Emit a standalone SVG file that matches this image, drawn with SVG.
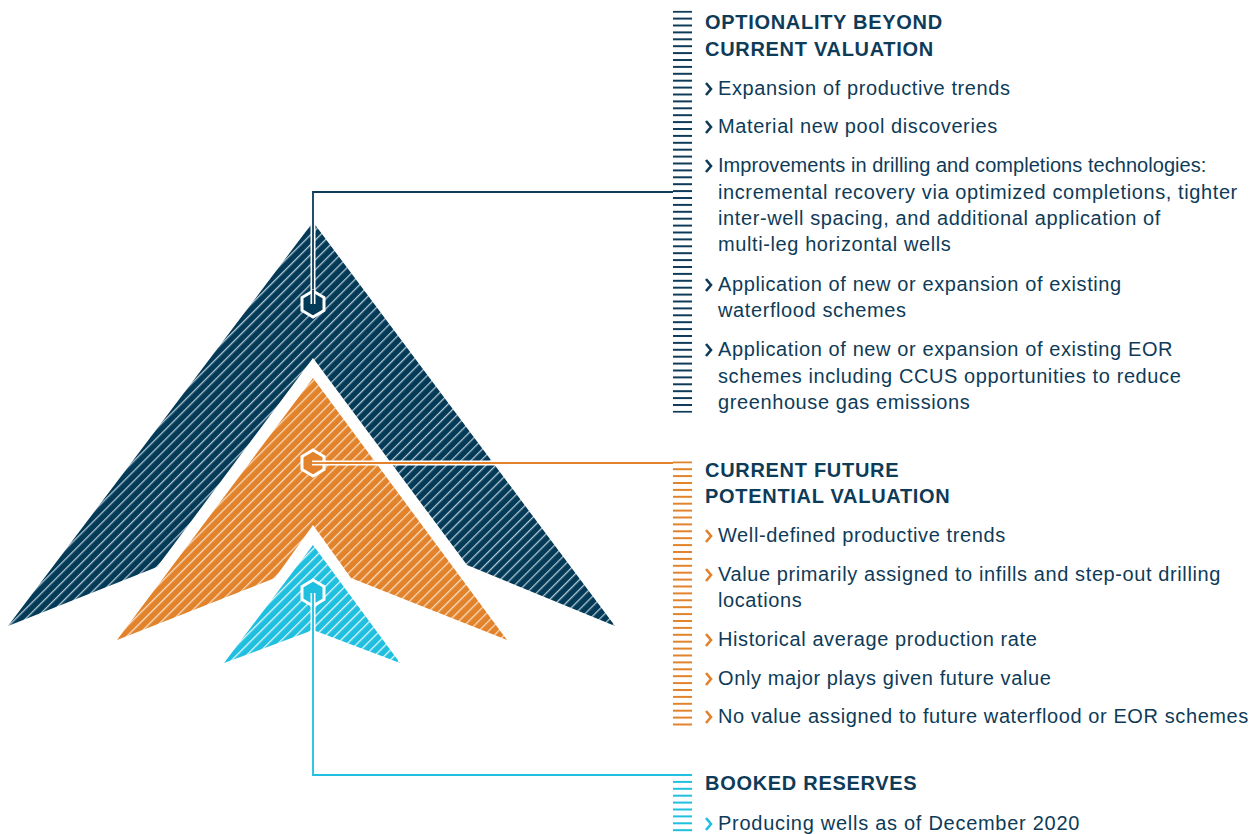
<svg xmlns="http://www.w3.org/2000/svg" width="1258" height="834" viewBox="0 0 1258 834">
<style>
.hd{font-family:"Liberation Sans",Arial,sans-serif;font-weight:bold;font-size:20px;letter-spacing:0.7px;fill:#0e3b58}
.tx{font-family:"Liberation Sans",Arial,sans-serif;font-size:20px;letter-spacing:0.6px;fill:#0e3b58}
.hex{stroke:#fff;stroke-width:3}
.halo{fill:none;stroke:#fff;stroke-width:5}
.bul{fill:none;stroke-width:2.6;stroke-linejoin:miter}
</style>
<defs>
<pattern id="stDark" width="7" height="7" patternUnits="userSpaceOnUse" patternTransform="rotate(45)">
<rect width="7" height="7" fill="#033a57"/><rect x="0" width="1.3" height="7" fill="#b3c7d3"/>
</pattern>
<pattern id="stOrange" width="7" height="7" patternUnits="userSpaceOnUse" patternTransform="rotate(45)">
<rect width="7" height="7" fill="#e2822a"/><rect x="0" width="1.3" height="7" fill="#f8dcc0"/>
</pattern>
<pattern id="stCyan" width="7" height="7" patternUnits="userSpaceOnUse" patternTransform="rotate(45)">
<rect width="7" height="7" fill="#1ebfdf"/><rect x="0" width="1.3" height="7" fill="#e6f7fb"/>
</pattern>
<pattern id="barDark" width="19" height="6.9" patternUnits="userSpaceOnUse" y="10.7">
<rect width="19" height="2" fill="#0e3b58"/>
</pattern>
<pattern id="barOrange" width="19" height="6.9" patternUnits="userSpaceOnUse" y="461.3">
<rect width="19" height="2" fill="#e2822a"/>
</pattern>
<pattern id="barCyan" width="19" height="6.9" patternUnits="userSpaceOnUse" y="774">
<rect width="19" height="2" fill="#1ebfdf"/>
</pattern>
<path id="chev" d="M0,0 L5,6 L0,12"/>
</defs>

<g id="shape-optionality">
<path d="M313,222 L615,626 L467,565 L313,358 L157,567 L8,626 Z" fill="url(#stDark)"/>
</g>
<g id="shape-current">
<path d="M313,378 L507,640 L351,578 L313,525 L275,578 L117,640 Z" fill="url(#stOrange)"/>
</g>
<g id="shape-booked">
<path d="M313,545 L400,663 L313,630 L224,663 Z" fill="url(#stCyan)"/>
</g>

<g id="connectors">
<path class="halo" d="M313,303 V192"/>
<path class="halo" d="M313,463 H500"/>
<path class="halo" d="M313,593 V640"/>
<path d="M313,303 V192 H673" fill="none" stroke="#0e3b58" stroke-width="1.8"/>
<path d="M313,463 H673" fill="none" stroke="#e2822a" stroke-width="1.8"/>
<path d="M313,593 V775 H673" fill="none" stroke="#1ebfdf" stroke-width="1.8"/>
</g>

<g id="hex-optionality">
<polygon class="hex" fill="#033a57" points="313,291 324,297.5 324,310.5 313,317 302,310.5 302,297.5"/>
<path d="M313,304 V292" stroke="#fff" stroke-width="5"/>
<path d="M313,304 V290" stroke="#0e3b58" stroke-width="1.8"/>
</g>
<g id="hex-current">
<polygon class="hex" fill="#e2822a" points="313,450 324,456.5 324,469.5 313,476 302,469.5 302,456.5"/>
<path d="M312,463 H326" stroke="#fff" stroke-width="5"/>
<path d="M312,463 H327" stroke="#e2822a" stroke-width="1.8"/>
</g>
<g id="hex-booked">
<polygon class="hex" fill="#1ebfdf" points="313,580 324,586.5 324,599.5 313,606 302,599.5 302,586.5"/>
<path d="M313,593 V607" stroke="#fff" stroke-width="5"/>
<path d="M313,593 V608" stroke="#1ebfdf" stroke-width="1.8"/>
</g>

<g id="node-optionality">
<rect x="673" y="10.7" width="19" height="402" fill="url(#barDark)"/>
<text class="hd" x="705" y="29">OPTIONALITY BEYOND</text>
<text class="hd" x="705" y="56">CURRENT VALUATION</text>
<g class="bul" stroke="#0e3b58">
<use href="#chev" x="706" y="83"/>
<use href="#chev" x="706" y="121"/>
<use href="#chev" x="706" y="160"/>
<use href="#chev" x="706" y="279"/>
<use href="#chev" x="706" y="344"/>
</g>
<text class="tx" x="718" y="95">Expansion of productive trends</text>
<text class="tx" x="718" y="133">Material new pool discoveries</text>
<text class="tx" x="718" y="172" textLength="489" lengthAdjust="spacing">Improvements in drilling and completions technologies:</text>
<text class="tx" x="718" y="199">incremental recovery via optimized completions, tighter</text>
<text class="tx" x="718" y="225">inter-well spacing, and additional application of</text>
<text class="tx" x="718" y="251">multi-leg horizontal wells</text>
<text class="tx" x="718" y="291">Application of new or expansion of existing</text>
<text class="tx" x="718" y="317">waterflood schemes</text>
<text class="tx" x="718" y="356">Application of new or expansion of existing EOR</text>
<text class="tx" x="718" y="383">schemes including CCUS opportunities to reduce</text>
<text class="tx" x="718" y="409">greenhouse gas emissions</text>
</g>

<g id="node-current">
<rect x="673" y="461.3" width="19" height="265" fill="url(#barOrange)"/>
<text class="hd" x="705" y="477">CURRENT FUTURE</text>
<text class="hd" x="705" y="503">POTENTIAL VALUATION</text>
<g class="bul" stroke="#e2822a">
<use href="#chev" x="706" y="530"/>
<use href="#chev" x="706" y="569"/>
<use href="#chev" x="706" y="634"/>
<use href="#chev" x="706" y="673"/>
<use href="#chev" x="706" y="711"/>
</g>
<text class="tx" x="718" y="542">Well-defined productive trends</text>
<text class="tx" x="718" y="581">Value primarily assigned to infills and step-out drilling</text>
<text class="tx" x="718" y="607">locations</text>
<text class="tx" x="718" y="646">Historical average production rate</text>
<text class="tx" x="718" y="685">Only major plays given future value</text>
<text class="tx" x="718" y="723">No value assigned to future waterflood or EOR schemes</text>
</g>

<g id="node-booked">
<rect x="673" y="774" width="19" height="60" fill="url(#barCyan)"/>
<text class="hd" x="705" y="790">BOOKED RESERVES</text>
<g class="bul" stroke="#1ebfdf">
<use href="#chev" x="706" y="818"/>
</g>
<text class="tx" x="718" y="830" textLength="362" lengthAdjust="spacing">Producing wells as of December 2020</text>
</g>
</svg>
